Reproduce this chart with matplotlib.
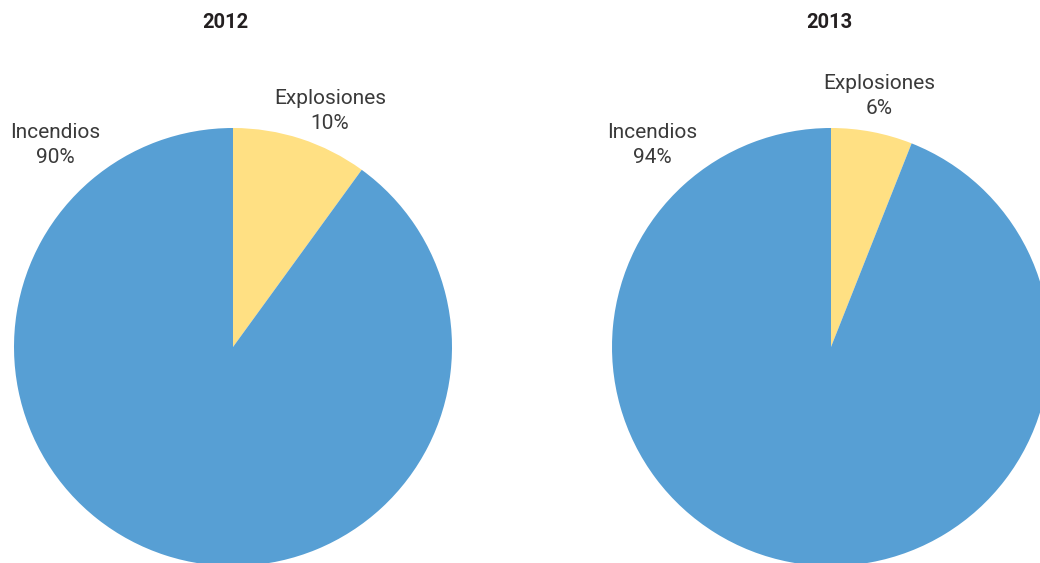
import matplotlib.pyplot as plt

years = ['2012', '2013']
categories = ['Explosiones', 'Incendios']
shares_2012 = [10, 90]
shares_2013 = [6, 94]
colors = ['#FFE083', '#579FD4']

W, H = 1040, 563


def make_plot():
    fig = plt.figure(figsize=(10.4, 5.63), dpi=100)
    ax = fig.add_axes([0, 0, 1, 1])

    # pie centres in pixel coords (y measured from the top)
    centres = [(233, 347), (831, 347)]
    title_x = [225, 829]
    # label centres: (Explosiones, Incendios)
    label_pos = [[(330, 111), (55, 145)], [(879, 96), (652, 145)]]

    for i, shares in enumerate([shares_2012, shares_2013]):
        cx, cy = centres[i]
        ax.pie(shares, colors=colors, startangle=90, counterclock=False,
               center=(cx, H - cy), radius=219, frame=True,
               wedgeprops=dict(linewidth=0))
        ax.text(title_x[i], H - 23, years[i], ha='center', va='center',
                fontsize=14.5, fontweight='bold', color='#231F20',
                family='Roboto')
        for j, cat in enumerate(categories):
            lx, ly = label_pos[i][j]
            ax.text(lx, H - ly, '%s\n%d%%' % (cat, shares[j]),
                    ha='center', va='center', fontsize=15,
                    color='#3A3A3A', family='Roboto', linespacing=1.42)

    ax.set_xlim(0, W)
    ax.set_ylim(0, H)
    ax.set_aspect('equal')
    ax.axis('off')

    fig.savefig('out.png', dpi=100)
    plt.close()


if __name__ == '__main__':
    make_plot()
